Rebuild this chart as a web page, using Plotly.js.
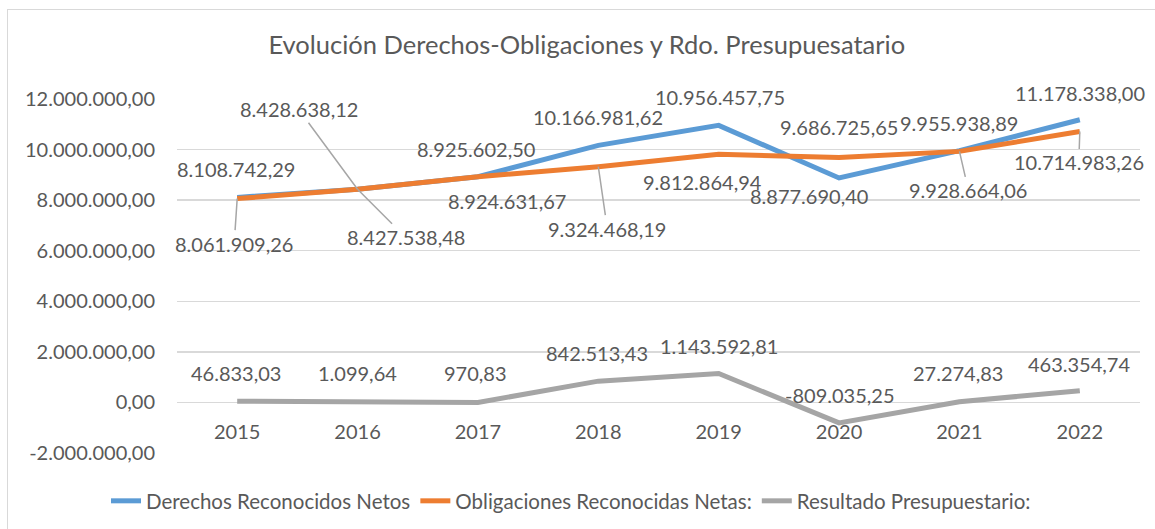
<!DOCTYPE html>
<html>
<head>
<meta charset="utf-8">
<script src="https://cdn.plot.ly/plotly-3.0.1.min.js"></script>
<style>
  html, body { margin: 0; padding: 0; background: #ffffff; overflow: hidden; }
  #chart { position: absolute; left: 0; top: 0; width: 1155px; height: 529px; }
  #frame { position: absolute; left: 7px; top: 9px; width: 1200px; height: 600px;
           border: 1.5px solid #D9D9D9; pointer-events: none; }
</style>
</head>
<body>
<div id="chart"></div>
<div id="frame"></div>
<script>
// ---- data ----
const years = ['2015', '2016', '2017', '2018', '2019', '2020', '2021', '2022'];
const derechos = [8108742.29, 8428638.12, 8925602.50, 10166981.62, 10956457.75, 8877690.40, 9955938.89, 11178338.00];
const obligaciones = [8061909.26, 8427538.48, 8924631.67, 9324468.19, 9812864.94, 9686725.65, 9928664.06, 10714983.26];
const resultado = [46833.03, 1099.64, 970.83, 842513.43, 1143592.81, -809035.25, 27274.83, 463354.74];
const seriesNames = ['Derechos Reconocidos Netos', 'Obligaciones Reconocidas Netas:', 'Resultado Presupuestario:'];
const yTicks = [-2000000, 0, 2000000, 4000000, 6000000, 8000000, 10000000, 12000000];

// ---- styling / label placement (pixel offsets from the point) ----
const colors = ['#5B9BD5', '#ED7D31', '#A5A5A5'];
const textColor = '#595959';
const fontFamily = 'Lato, "Open Sans", sans-serif';
const labelSize = 20;
// [dx, dy, leader]
const placeD = [[-1,-28,0],[-59,-80,1],[-2,-28,0],[0,-28,0],[1,-28,0],[-30,18,0],[0,-28,0],[0,-27,0]];
const placeO = [[-3,45,1],[48,48,1],[29,24,0],[9,62,1],[-16,28,0],[0,-30,0],[9,39,1],[-1,31,1]];
const placeR = [[-1,-28,0],[0,-29,0],[-2,-29,0],[-1,-28,0],[0,-28,0],[1,-28,0],[-1,-29,0],[-1,-27,0]];

function fmt(v) {
  const neg = v < 0;
  const parts = Math.abs(v).toFixed(2).split('.');
  const intPart = parts[0].replace(/\B(?=(\d{3})+(?!\d))/g, '.');
  return (neg ? '-' : '') + intPart + ',' + parts[1];
}

const traces = [derechos, obligaciones, resultado].map((vals, i) => ({
  type: 'scatter',
  mode: 'lines',
  x: years,
  y: vals,
  name: seriesNames[i],
  line: { color: colors[i], width: 5 },
  hoverinfo: 'skip'
}));

const annotations = [];
const groups = [[derechos, placeD], [obligaciones, placeO], [resultado, placeR]];
for (const g of groups) {
  const vals = g[0], place = g[1];
  for (let j = 0; j < vals.length; j++) {
    const dx = place[j][0], dy = place[j][1], leader = place[j][2];
    const a = {
      x: j, y: vals[j], xref: 'x', yref: 'y',
      text: fmt(vals[j]),
      font: { family: fontFamily, size: labelSize, color: textColor }
    };
    if (leader) {
      a.showarrow = true; a.arrowhead = 0; a.arrowwidth = 1.5; a.arrowcolor = '#A6A6A6';
      a.ax = dx; a.ay = dy;
    } else {
      a.showarrow = false; a.xshift = dx; a.yshift = -dy;
    }
    annotations.push(a);
  }
}

const layout = {
  width: 1155,
  height: 529,
  margin: { l: 177, r: 15, t: 99, b: 76, autoexpand: false },
  paper_bgcolor: '#ffffff',
  plot_bgcolor: '#ffffff',
  separators: ',.',
  font: { family: fontFamily, color: textColor, size: 20 },
  title: {
    text: 'Evolución Derechos-Obligaciones y Rdo. Presupuesatario',
    font: { family: fontFamily, size: 25.5, color: textColor },
    xref: 'container', x: 0.508, xanchor: 'center',
    yref: 'container', y: 1 - 45 / 529, yanchor: 'middle'
  },
  xaxis: {
    type: 'category',
    range: [-0.5, 7.5],
    showgrid: false,
    zeroline: false,
    showline: false,
    ticks: '',
    anchor: 'free',
    position: 51 / 354,
    ticklabelstandoff: 16,
    tickfont: { family: fontFamily, size: 20, color: textColor },
    fixedrange: true
  },
  yaxis: {
    range: [-2000000, 12000000],
    tickmode: 'array',
    tickvals: yTicks,
    ticktext: yTicks.map(fmt),
    showgrid: true,
    gridcolor: '#D9D9D9',
    gridwidth: 1.3,
    zeroline: false,
    showline: false,
    ticks: '',
    ticklabelstandoff: 21,
    tickfont: { family: fontFamily, size: 20, color: textColor },
    fixedrange: true
  },
  showlegend: true,
  legend: {
    orientation: 'h',
    x: (106 - 177) / 963,
    xanchor: 'left',
    y: -48 / 354,
    yanchor: 'middle',
    font: { family: fontFamily, size: 20.5, color: textColor },
    bgcolor: 'rgba(0,0,0,0)'
  },
  annotations: annotations
};

Plotly.newPlot('chart', traces, layout, { staticPlot: true, displayModeBar: false });
</script>
</body>
</html>
